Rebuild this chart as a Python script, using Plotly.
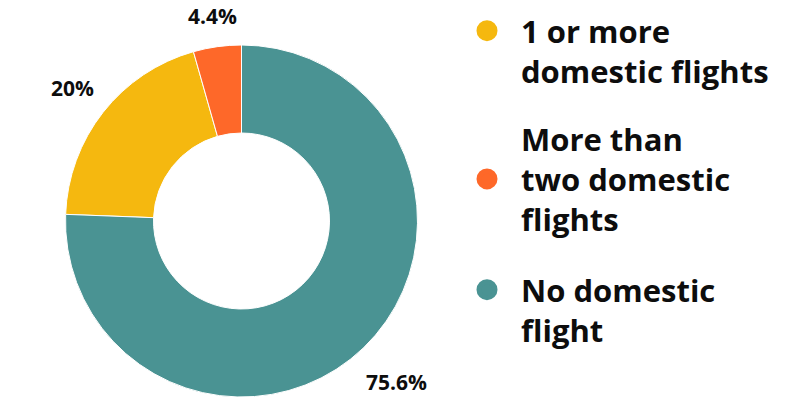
import math
import plotly.graph_objects as go

# Share of respondents by number of domestic flights taken
categories = ["1 or more<br>domestic flights",
              "More than<br>two domestic<br>flights",
              "No domestic<br>flight"]
shares = [20, 4.4, 75.6]
colors = ["#F5B80F", "#FE6829", "#4A9393"]
pct_labels = [f"{v:g}%" for v in shares]

FONT = "Open Sans"
INK = "#0d0d0d"

W, H = 798, 406
M_T, M_B = 45, 9
plot_h = H - M_T - M_B
cx, cy = 241.5, M_T + plot_h / 2     # donut centre, px
radius = plot_h / 2
HOLE = 0.5

fig = go.Figure()

# Start the first slice where the "No domestic flight" slice ends, going clockwise
total = sum(shares)
rotation = 360 * shares[2] / total

fig.add_trace(go.Pie(
    values=shares,
    labels=categories,
    textinfo="none",
    marker=dict(colors=colors, line=dict(color="white", width=1)),
    hole=HOLE,
    sort=False,
    direction="clockwise",
    rotation=rotation,
    showlegend=False,
    hoverinfo="label+percent",
    domain=dict(x=[(cx - radius) / W, (cx + radius) / W], y=[0, 1]),
))

# Percentage labels just outside each slice, on the slice's mid angle
LABEL_SIZE = 21
LABEL_GAP = 20
start = rotation
for v, txt in zip(shares, pct_labels):
    mid = math.radians(start + 180 * v / total)
    start += 360 * v / total
    s, c = math.sin(mid), -math.cos(mid)
    w = 0.6 * LABEL_SIZE * len(txt)
    h = 0.72 * LABEL_SIZE
    d = radius + LABEL_GAP + abs(s) * w / 2 + abs(c) * h / 2
    px, py = cx + d * s, cy + d * c
    fig.add_annotation(
        x=px / W, y=(H - M_B - py) / plot_h, xref="paper", yref="paper",
        text=txt, showarrow=False, xanchor="center", yanchor="middle",
        font=dict(family=FONT, size=LABEL_SIZE, color=INK, weight="bold"),
    )

# Legend entries with round swatches, one legend per category
legend_names = ["legend", "legend2", "legend3"]
legend_tops = [4, 112, 263]   # px from top of the page
legend_valign = ["top", "middle", "top"]
for name, cat, col in zip(legend_names, categories, colors):
    fig.add_trace(go.Scatter(
        x=[None], y=[None], mode="markers", name=cat, legend=name,
        marker=dict(symbol="circle", size=16, color=col,
                    line=dict(color=col, width=5)),
        hoverinfo="skip",
    ))

leg_common = dict(
    font=dict(family=FONT, size=31, color=INK, weight="bold"),
    bgcolor="rgba(0,0,0,0)", borderwidth=0,
    xanchor="left", yanchor="top", itemwidth=58,
    itemclick=False, itemdoubleclick=False,
)
layout_legends = {}
for name, top, va in zip(legend_names, legend_tops, legend_valign):
    layout_legends[name] = dict(
        leg_common, x=453 / W, y=(H - M_B - top) / plot_h, valign=va)

fig.update_layout(
    width=W, height=H,
    margin=dict(l=0, r=0, t=M_T, b=M_B),
    paper_bgcolor="white", plot_bgcolor="white",
    xaxis=dict(visible=False, domain=[0.6, 1]),
    yaxis=dict(visible=False),
    **layout_legends,
)

fig.write_html("out.html")
